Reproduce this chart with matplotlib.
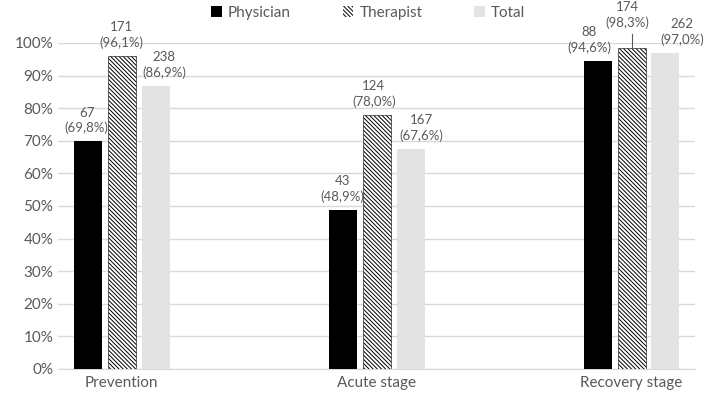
import numpy as np
import matplotlib.pyplot as plt
from matplotlib.patches import Patch

categories = ['Prevention', 'Acute stage', 'Recovery stage']
physician = [69.8, 48.9, 94.6]
therapist = [96.1, 78.0, 98.3]
total = [86.9, 67.6, 97.0]
physician_n = [67, 43, 88]
therapist_n = [171, 124, 174]
total_n = [238, 167, 262]

plt.rcParams['font.family'] = ['Lato', 'DejaVu Sans']
grey = '#595959'
plt.rcParams['hatch.linewidth'] = 0.7
hatch = '\\' * 8

fig = plt.figure(figsize=(7.08, 3.94), dpi=100)
ax = fig.add_axes([0.082, 0.0635, 0.9, 0.8275])

x = np.arange(len(categories))
w = 0.11
step = 0.133

# horizontal nudges of the data labels (points), like Excel's collision avoidance
nudges = [[-1, 0, -6], [0, -2, -3], [6, 8, 12]]

series = [
    (physician, physician_n, dict(color='black'), 'Physician'),
    (therapist, therapist_n, dict(facecolor='white', edgecolor='black', hatch=hatch, linewidth=0.4), 'Therapist'),
    (total, total_n, dict(color='#e3e3e3'), 'Total'),
]

for i, (vals, ns, style, name) in enumerate(series):
    pos = x + (i - 1) * step
    ax.bar(pos, vals, w, zorder=3, **style)
    for j, (p, v, n) in enumerate(zip(pos, vals, ns)):
        lift = 0
        if name == 'Therapist' and v > 98:
            lift = 4
            ax.plot([p, p], [v + 0.6, v + 4.5], color=grey, lw=0.8, zorder=4, clip_on=False)
        ax.annotate('%d\n(%s%%)' % (n, ('%.1f' % v).replace('.', ',')),
                    (p, v + lift), xytext=(nudges[i][j], 5), textcoords='offset points',
                    ha='center', va='bottom', fontsize=9.5, color=grey,
                    linespacing=1.3, annotation_clip=False)

ax.set_ylim(0, 100)
ax.set_xlim(-0.25, 2.25)
ax.set_yticks(np.arange(0, 101, 10))
ax.set_yticklabels(['%d%%' % t for t in range(0, 101, 10)])
ax.set_xticks(x)
ax.set_xticklabels(categories)
ax.tick_params(axis='both', length=0, labelsize=11, colors=grey)
ax.tick_params(axis='x', pad=5)
ax.grid(axis='y', color='#d9d9d9', lw=1, zorder=0)
for s in ['top', 'right', 'left']:
    ax.spines[s].set_visible(False)
ax.spines['bottom'].set_color('#d9d9d9')

handles = [Patch(facecolor='black'),
           Patch(facecolor='white', edgecolor='black', linewidth=0, hatch=hatch),
           Patch(facecolor='#e3e3e3')]
leg = fig.legend(handles, ['Physician', 'Therapist', 'Total'], ncol=3, loc='center',
                 bbox_to_anchor=(0.52, 0.968), frameon=False, fontsize=11,
                 handlelength=0.7, handleheight=0.7, columnspacing=3.4, handletextpad=0.4)
for t in leg.get_texts():
    t.set_color(grey)

fig.savefig('out.png', dpi=100)
